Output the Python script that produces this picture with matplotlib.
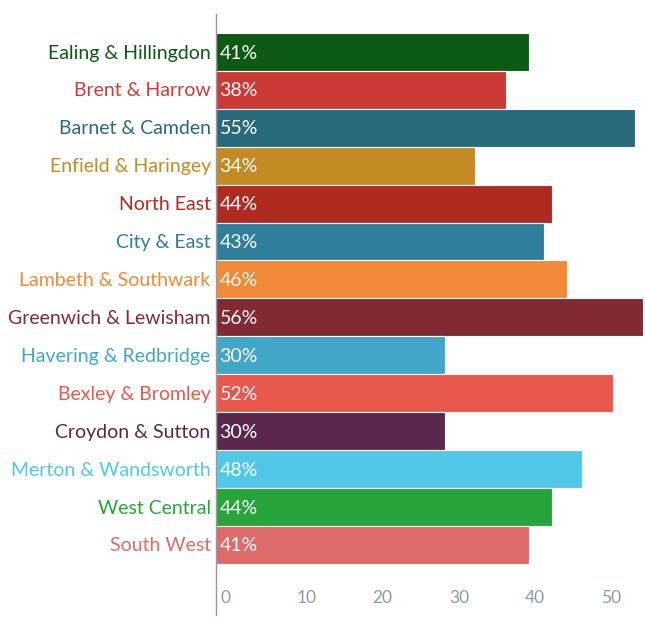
import matplotlib.pyplot as plt
import matplotlib.transforms as mtransforms

# Data
regioes = ["Ealing & Hillingdon", "Brent & Harrow", "Barnet & Camden",
           "Enfield & Haringey", "North East", "City & East",
           "Lambeth & Southwark", "Greenwich & Lewisham",
           "Havering & Redbridge", "Bexley & Bromley", "Croydon & Sutton",
           "Merton & Wandsworth", "West Central", "South West"]
valores = [41, 38, 55, 34, 44, 43, 46, 56, 30, 52, 30, 48, 44, 41]
cores = ["#0c5a13", "#cc3a38", "#276a7a", "#c48a24", "#b02a22", "#2f7e9c",
         "#f08a36", "#812a33", "#42a6c9", "#e9584d", "#5b284d", "#52c8e8",
         "#27a53a", "#dd6b6a"]
xticks = [0, 10, 20, 30, 40, 50]

plt.rcParams['font.family'] = ['Lato', 'DejaVu Sans']

fig = plt.figure(figsize=(6.45, 6.17), dpi=100)
W, H = 645, 617
ax = fig.add_axes([216 / W, 1 - 615 / H, (643 - 216) / W, (615 - 14) / H])

ypos = list(range(len(regioes)))
ax.barh(ypos, valores, height=1.0, color=cores, edgecolor="white", linewidth=0.8)

for y, v, c, nome in zip(ypos, valores, cores, regioes):
    ax.text(0.45, y + 0.03, f"{v}%", color="white", fontsize=14,
            va="center", ha="left")
    ax.text(-0.7, y + 0.03, nome, color=c, fontsize=14, va="center", ha="right")

ax.set_xlim(0, 56)
ax.set_ylim(14.85, -1.0)
ax.set_yticks([])
ax.set_xticks(xticks)
ax.set_xticklabels([str(t) for t in xticks], color="#8d9aa6", fontsize=12.5)
ax.tick_params(axis="x", length=0, pad=-18)
offset = mtransforms.ScaledTranslation(3 / 72, 0, fig.dpi_scale_trans)
for lab in ax.get_xticklabels():
    lab.set_horizontalalignment("left")
    lab.set_transform(lab.get_transform() + offset)

for s in ["top", "right", "bottom"]:
    ax.spines[s].set_visible(False)
ax.spines["left"].set_color("#999999")
ax.spines["left"].set_linewidth(1.0)

fig.savefig("out.png", dpi=100)
